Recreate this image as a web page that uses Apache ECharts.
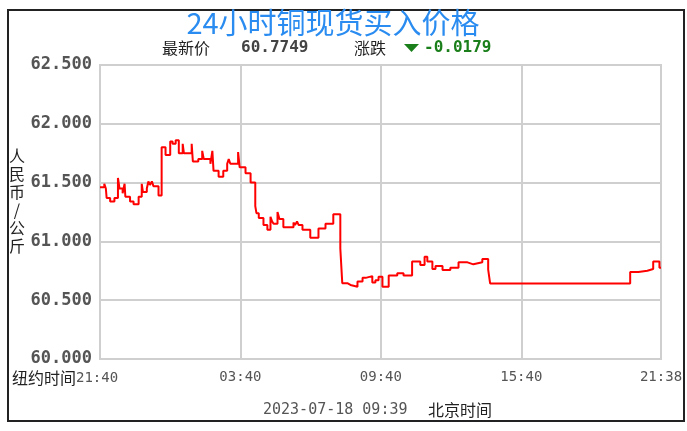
<!DOCTYPE html>
<html>
<head>
<meta charset="utf-8">
<script src="https://cdn.jsdelivr.net/npm/echarts@6/dist/echarts.min.js"></script>
<style>
html,body{margin:0;padding:0;background:#fff;}
#c{width:687px;height:431px;}
</style>
</head>
<body>
<div id="c"></div>
<script>
// Minutes elapsed since 21:40 (New York time axis) at which each price level starts
const minutes = [0, 11, 15, 17, 26, 37, 46, 50, 58, 63, 65, 77, 86, 99, 107, 110, 120, 124, 128, 133, 137, 150,
  158, 168, 180, 186, 194, 202, 212, 215, 235, 238, 252, 262, 266, 283, 288, 291, 304, 316, 326, 330, 334, 354, 358,
  373, 386, 398, 401, 407, 419, 429, 437, 441, 445, 455, 460, 470, 496, 500, 505, 509, 519, 539, 560, 578, 598,
  616, 621, 634, 642, 660, 673, 681, 698, 706, 714, 724, 740, 762, 778, 800, 821, 832, 839, 852, 860, 878, 898,
  919, 942, 957, 980, 995, 1000, 1359, 1380, 1403, 1418, 1434, 1438];
// Copper spot buy price (yuan / kg)
const prices = [61.46, 61.49, 61.45, 61.37, 61.34, 61.37, 61.54, 61.45, 61.41, 61.49, 61.38, 61.34, 61.315, 61.38, 61.49, 61.42, 61.45, 61.51, 61.48, 61.51, 61.47, 61.39,
  61.80, 61.735, 61.85, 61.83, 61.86, 61.75, 61.83, 61.75, 61.83, 61.68, 61.70, 61.77, 61.70, 61.66, 61.77, 61.60, 61.55, 61.60, 61.66, 61.70, 61.66, 61.76, 61.63,
  61.58, 61.50, 61.30, 61.24, 61.20, 61.14, 61.10, 61.21, 61.17, 61.15, 61.25, 61.19, 61.12, 61.16, 61.14, 61.17, 61.14, 61.10, 61.03, 61.11, 61.15, 61.23,
  60.94, 60.645, 60.63, 60.615, 60.66, 60.69, 60.705, 60.65, 60.67, 60.70, 60.615, 60.71, 60.73, 60.71, 60.83, 60.80, 60.87, 60.83, 60.765, 60.79, 60.757, 60.776,
  60.822, 60.805, 60.822, 60.85, 60.76, 60.643, 60.74, 60.75, 60.765, 60.83, 60.775, 60.775];
const yTicks = [60.0, 60.5, 61.0, 61.5, 62.0, 62.5];
const startMinuteOfDay = 21 * 60 + 40;
const axisSpanMinutes = 1438;
const titleText = '24小时铜现货买入价格';
const latestLabel = '最新价';
const latestPrice = '60.7749';
const changeLabel = '涨跌';
const changeValue = '-0.0179';
const yAxisName = '人民币/公斤';
const xAxisPrefix = '纽约时间';
const timestampText = '2023-07-18 09:39';
const timestampSuffix = '北京时间';

function fmtTime(m) {
  const t = (startMinuteOfDay + Math.round(m)) % 1440;
  const h = Math.floor(t / 60), mm = t % 60;
  return (h < 10 ? '0' : '') + h + ':' + (mm < 10 ? '0' : '') + mm;
}

const chart = echarts.init(document.getElementById('c'), null, {renderer: 'canvas'});
const data = minutes.map((m, i) => [m, prices[i]]);
const CJK = '"Noto Sans CJK SC", sans-serif';
const MONO = '"DejaVu Sans Mono", monospace';

chart.setOption({
  backgroundColor: '#ffffff',
  animation: false,
  grid: {left: 100, right: 26, top: 65, bottom: 72, show: true, borderColor: '#cfcfcf', borderWidth: 2, containLabel: false},
  xAxis: {
    type: 'value', min: 0, max: axisSpanMinutes, interval: 360,
    axisLine: {show: true, lineStyle: {color: '#cfcfcf', width: 2}},
    axisTick: {show: false},
    splitLine: {show: true, lineStyle: {color: '#cfcfcf', width: 2}},
    axisLabel: {color: '#555', fontFamily: MONO, fontSize: 14, margin: 11, showMinLabel: false, formatter: v => fmtTime(v)}
  },
  yAxis: {
    type: 'value', min: yTicks[0], max: yTicks[yTicks.length - 1], interval: 0.5,
    axisLine: {show: true, lineStyle: {color: '#cfcfcf', width: 2}},
    axisTick: {show: false},
    splitLine: {show: true, lineStyle: {color: '#cfcfcf', width: 2}},
    axisLabel: {color: '#555', fontFamily: MONO, fontWeight: 'bold', fontSize: 17, margin: 8, formatter: v => v.toFixed(3)}
  },
  series: [{
    type: 'line', step: 'end', data: data, showSymbol: false, symbol: 'none',
    lineStyle: {color: '#ff0000', width: 2}, itemStyle: {color: '#ff0000'}, silent: true
  }],
  graphic: [
    {type: 'rect', shape: {x: 8, y: 10, width: 676, height: 411}, style: {fill: null, stroke: '#222', lineWidth: 2}, silent: true},
    {type: 'text', x: 333, y: 23, style: {text: titleText, fill: '#2a8cf0', font: '29px ' + CJK, textAlign: 'center', textVerticalAlign: 'middle'}},
    {type: 'text', x: 162, y: 48, style: {text: latestLabel, fill: '#222', font: '16px ' + CJK, textAlign: 'left', textVerticalAlign: 'middle'}},
    {type: 'text', x: 241, y: 48, style: {text: latestPrice, fill: '#444', font: 'bold 16px ' + MONO, textAlign: 'left', textVerticalAlign: 'middle'}},
    {type: 'text', x: 354, y: 48, style: {text: changeLabel, fill: '#222', font: '16px ' + CJK, textAlign: 'left', textVerticalAlign: 'middle'}},
    {type: 'polygon', shape: {points: [[404, 44], [419, 44], [411.5, 52]]}, style: {fill: '#1a7f1a'}},
    {type: 'text', x: 424, y: 48, style: {text: changeValue, fill: '#1a7f1a', font: 'bold 16px ' + MONO, textAlign: 'left', textVerticalAlign: 'middle'}},
    {type: 'text', x: 17, y: 201, style: {text: yAxisName.split('').join('\n'), fill: '#222', font: '16px ' + CJK, lineHeight: 18, textAlign: 'center', textVerticalAlign: 'middle'}},
    {type: 'text', x: 76, y: 378, style: {text: xAxisPrefix, fill: '#222', font: '16px ' + CJK, textAlign: 'right', textVerticalAlign: 'middle'}},
    {type: 'text', x: 76, y: 378, style: {text: fmtTime(0), fill: '#555', font: '14px ' + MONO, textAlign: 'left', textVerticalAlign: 'middle'}},
    {type: 'text', x: 263, y: 410, style: {text: timestampText, fill: '#555', font: '15px ' + MONO, textAlign: 'left', textVerticalAlign: 'middle'}},
    {type: 'text', x: 428, y: 410, style: {text: timestampSuffix, fill: '#222', font: '16px ' + CJK, textAlign: 'left', textVerticalAlign: 'middle'}}
  ]
});
</script>
</body>
</html>
